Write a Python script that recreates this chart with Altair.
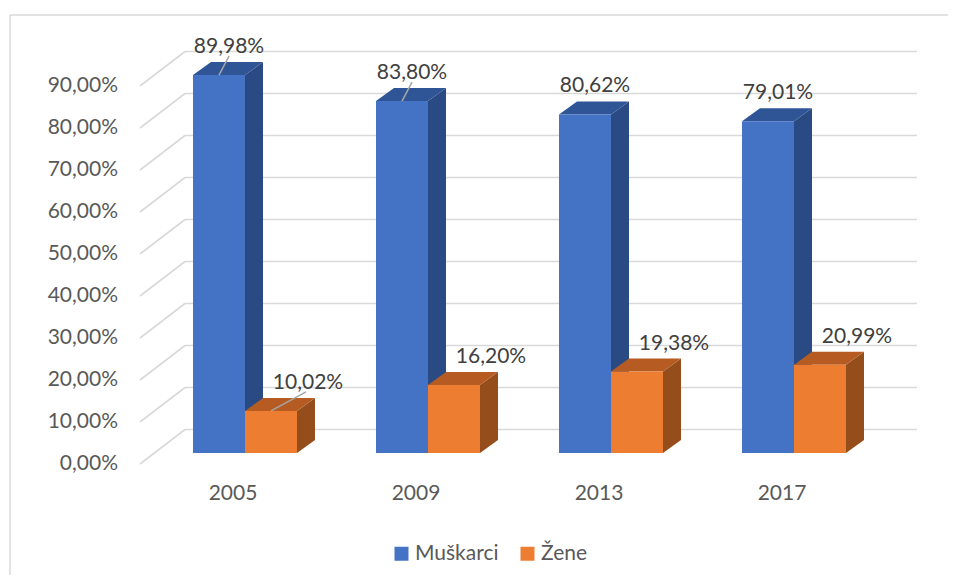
import altair as alt
import pandas as pd

# ---- data ----
years = ["2005", "2009", "2013", "2017"]
series_names = ["Muškarci", "Žene"]
muskarci = [89.98, 83.80, 80.62, 79.01]
zene = [10.02, 16.20, 19.38, 20.99]
y_ticks = [0, 10, 20, 30, 40, 50, 60, 70, 80, 90]
leader_lines = [[True, True, False, False], [True, False, False, False]]  # per series, per year

# ---- styling / geometry (pixels) ----
W, H = 940, 567
STEP_PX = 183.0          # px per category
PX_PER_UNIT_Y = 4.2      # px per percentage point
X_ORIGIN = 237.0         # in-view px of first category center
Y_ORIGIN = 445.0         # in-view px of value 0 (bar base)
BAR_PX = 52.0
DEPTH_DX_PX, DEPTH_DY_PX = 18.0, 13.0
FONT = "Lato"

px_x = 1.0 / STEP_PX
px_y = 1.0 / PX_PER_UNIT_Y
XDOM = [-X_ORIGIN / STEP_PX, (W - X_ORIGIN) / STEP_PX]
YDOM = [(Y_ORIGIN - H) / PX_PER_UNIT_Y, Y_ORIGIN / PX_PER_UNIT_Y]
BW = BAR_PX * px_x
DX = DEPTH_DX_PX * px_x
DY = DEPTH_DY_PX * px_y

front_c = {"Muškarci": "#4472C4", "Žene": "#ED7D31"}
top_c = {"Muškarci": "#2F5597", "Žene": "#B65C22"}
side_c = {"Muškarci": "#294A82", "Žene": "#964D1C"}
label_shift = {"Muškarci": 1 * px_x, "Žene": 28 * px_x}

xs = alt.Scale(domain=XDOM, nice=False, zero=False)
ys = alt.Scale(domain=YDOM, nice=False, zero=False)

front_rows, top_rows, side_rows, label_rows, leader_rows = [], [], [], [], []
for s_idx, (sname, vals) in enumerate(zip(series_names, [muskarci, zene])):
    for i, (yr, v) in enumerate(zip(years, vals)):
        L = i - BW if s_idx == 0 else i
        R = L + BW
        bid = f"b{s_idx}{i}"
        front_rows.append(dict(series=sname, year=yr, x=L, x2=R, y=0, y2=v))
        for k, (xx, lo, hi) in enumerate([(L, v, v), (L + DX, v, v + DY), (R, v, v + DY), (R + DX, v + DY, v + DY)]):
            top_rows.append(dict(series=sname, bar=bid, k=k, px=xx, lo=lo, hi=hi))
        for k, (xx, lo, hi) in enumerate([(R, 0, v), (R + DX, DY, v + DY)]):
            side_rows.append(dict(series=sname, bar=bid, k=k, px=xx, lo=lo, hi=hi))
        lx = (L + R) / 2 + DX / 2 + label_shift[sname]
        ly = v + DY + 15 * px_y
        label_rows.append(dict(x=lx, y=ly, t=f"{v:.2f}".replace(".", ",") + "%"))
        if leader_lines[s_idx][i]:
            ex = lx if s_idx == 0 else lx - 2 * px_x
            leader_rows.append(dict(x=(L + R) / 2, y=v, x2=ex, y2=ly - 9 * px_y))

front_df = pd.DataFrame(front_rows)
top_df = pd.DataFrame(top_rows)
side_df = pd.DataFrame(side_rows)
label_df = pd.DataFrame(label_rows)
leader_df = pd.DataFrame(leader_rows)

# gridlines: back wall + diagonal to front
FRONT_OFF = -11 * px_y
BACK_OFF = 23.5 * px_y
X_FRONT = -105 * px_x
X_BACK = -60 * px_x
X_END = 672 * px_x
grid_df = pd.DataFrame([dict(t=t, xb=X_BACK, xe=X_END, yb=t + BACK_OFF) for t in y_ticks])
diag_df = pd.DataFrame([dict(x=X_FRONT, x2=X_BACK, y=t + FRONT_OFF, y2=t + BACK_OFF) for t in y_ticks])
ylab_df = pd.DataFrame([dict(x=X_FRONT - 22 * px_x, y=t + FRONT_OFF,
                             t=f"{t:.2f}".replace(".", ",") + "%") for t in y_ticks])
xlab_df = pd.DataFrame([dict(x=i - 12 * px_x, y=-41 * px_y, t=yr) for i, yr in enumerate(years)])

GRID = "#D9D9D9"

back = alt.Chart(grid_df).mark_rule(color=GRID, strokeWidth=1.6).encode(
    x=alt.X("xb:Q", scale=xs, axis=None), x2="xe:Q",
    y=alt.Y("yb:Q", scale=ys, axis=None))
diag = alt.Chart(diag_df).mark_rule(color=GRID, strokeWidth=1.6).encode(
    x=alt.X("x:Q", scale=xs, axis=None), x2="x2:Q",
    y=alt.Y("y:Q", scale=ys, axis=None), y2="y2:Q")


def faces(df, cmap):
    layers = []
    for sname in series_names:
        sub = df[df["series"] == sname]
        layers.append(
            alt.Chart(sub).mark_area(color=cmap[sname], opacity=1, orient="vertical",
                                     interpolate="linear").encode(
                x=alt.X("px:Q", scale=xs, axis=None),
                y=alt.Y("lo:Q", scale=ys, axis=None, stack=None),
                y2=alt.Y2("hi:Q"),
                detail="bar:N"))
    return layers


side_layers = faces(side_df, side_c)
top_layers = faces(top_df, top_c)

front = alt.Chart(front_df).mark_rect().encode(
    x=alt.X("x:Q", scale=xs, axis=None), x2="x2:Q",
    y=alt.Y("y:Q", scale=ys, axis=None), y2="y2:Q",
    color=alt.Color("series:N",
                    scale=alt.Scale(domain=series_names, range=[front_c[n] for n in series_names]),
                    legend=alt.Legend(orient="none", legendX=383, legendY=535, direction="horizontal",
                                      title=None, symbolType="square", symbolSize=196,
                                      symbolStrokeWidth=0, labelFontSize=21, labelFont=FONT,
                                      labelColor="#595959", columnPadding=18, labelOffset=3,
                                      padding=0)))

leaders = alt.Chart(leader_df).mark_rule(color="#A6A6A6", strokeWidth=1.5).encode(
    x=alt.X("x:Q", scale=xs, axis=None), x2="x2:Q",
    y=alt.Y("y:Q", scale=ys, axis=None), y2="y2:Q")

vlabels = alt.Chart(label_df).mark_text(font=FONT, fontSize=21, color="#404040", baseline="middle").encode(
    x=alt.X("x:Q", scale=xs, axis=None), y=alt.Y("y:Q", scale=ys, axis=None), text="t:N")
ylabels = alt.Chart(ylab_df).mark_text(font=FONT, fontSize=21, color="#595959", baseline="middle",
                                       align="right").encode(
    x=alt.X("x:Q", scale=xs, axis=None), y=alt.Y("y:Q", scale=ys, axis=None), text="t:N")
xlabels = alt.Chart(xlab_df).mark_text(font=FONT, fontSize=21, color="#595959", baseline="middle").encode(
    x=alt.X("x:Q", scale=xs, axis=None), y=alt.Y("y:Q", scale=ys, axis=None), text="t:N")

dummy = pd.DataFrame({"a": [0]})
frame_top = alt.Chart(dummy).mark_rule(color=GRID, strokeWidth=1.5).encode(
    x=alt.value(2), x2=alt.value(W), y=alt.value(7))
frame_left = alt.Chart(dummy).mark_rule(color=GRID, strokeWidth=1.5).encode(
    x=alt.value(2), y=alt.value(7), y2=alt.value(H + 10))

chart = alt.layer(frame_top, frame_left, back, diag, *side_layers, *top_layers, front, leaders,
                  vlabels, ylabels, xlabels).properties(
    width=W, height=H, padding=0, autosize="none", background="white"
).configure_view(strokeWidth=0)

chart.save("out.html", embed_options={"renderer": "svg", "actions": False})
